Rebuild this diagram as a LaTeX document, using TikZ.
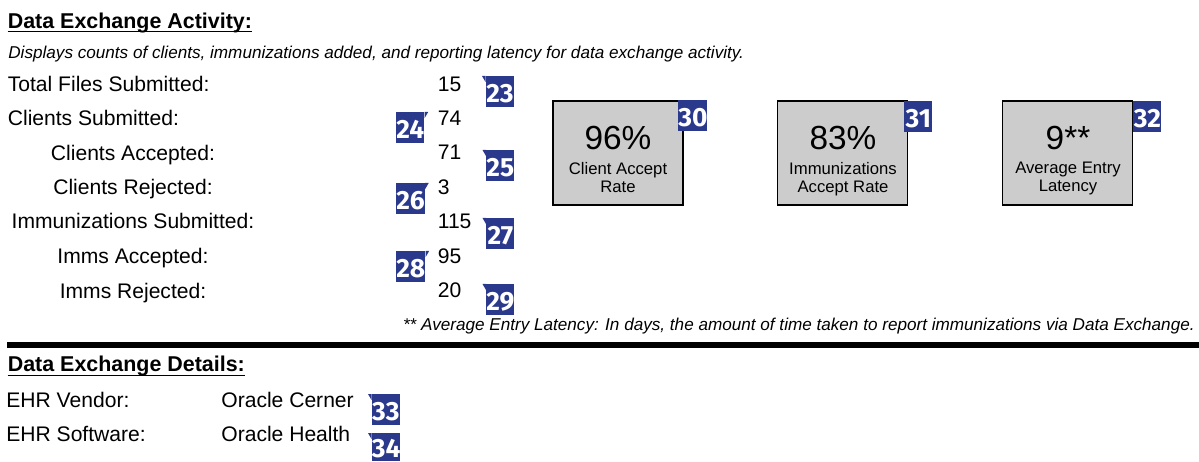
\documentclass[tikz,border=0pt]{standalone}
\usepackage{fontspec}
\setmainfont{Liberation Sans}
\newfontfamily\badgefont{Fira Sans}
\usetikzlibrary{calc}

\definecolor{badgeblue}{RGB}{43,57,140}
\definecolor{tilegray}{RGB}{204,204,204}

% little flag tip on the badges
\newcommand{\lefttab}[1]{\fill[badgeblue] (#1.north west) -- ++(-3.5,0) -- ($(#1.north west)+(0,6)$) -- cycle;}
\newcommand{\righttab}[1]{\fill[badgeblue] (#1.north east) -- ++(3.5,0) -- ($(#1.north east)+(0,6)$) -- cycle;}

\tikzset{
  head/.style={font=\bfseries\fontsize{12.2}{14}\selectfont, inner sep=0, anchor=base west},
  note/.style={font=\itshape\fontsize{9.75}{11}\selectfont, inner sep=0},
  lbl/.style={font=\fontsize{12}{14}\selectfont, inner sep=0, anchor=base west},
  clbl/.style={font=\fontsize{12}{14}\selectfont, inner sep=0, anchor=base},
  badge/.style={fill=badgeblue, text=white, font=\badgefont\bfseries\fontsize{15}{16}\selectfont,
    minimum width=0.56cm, minimum height=0.62cm, text height=0.42cm, text depth=0pt,
    inner sep=0, anchor=north west},
  tile/.style={draw, fill=tilegray, line width=0.9pt, minimum width=2.6cm, minimum height=2.08cm, inner sep=0},
  bignum/.style={font=\fontsize{19}{22}\selectfont, inner sep=0, anchor=base},
  caption/.style={font=\fontsize{9.5}{10.4}\selectfont, inner sep=0, align=center, anchor=north},
}

\begin{document}
\begin{tikzpicture}[x=0.02cm, y=-0.02cm]

% page size
\useasboundingbox (0,0) rectangle (1199,462);

% heading
\node[head] (hdact) at (7.5,28.5) {Data Exchange Activity:};
\draw[line width=0.8pt] ($(hdact.base west)+(0,3)$) -- ($(hdact.base east)+(0,3)$);
\node[note, anchor=base west] (intro) at (8,59) {Displays counts of clients, immunizations added, and reporting latency for data exchange activity.};

% counts
\node[lbl] (ltotal) at (7.5,91.5) {Total Files Submitted:};
\node[lbl] (lcsub) at (7.5,126) {Clients Submitted:};
\node[clbl] (lcacc) at (133,161) {Clients Accepted:};
\node[clbl] (lcrej) at (133,195) {Clients Rejected:};
\node[clbl] (lisub) at (133,229) {Immunizations Submitted:};
\node[clbl] (liacc) at (133,264) {Imms Accepted:};
\node[clbl] (lirej) at (133,298.5) {Imms Rejected:};

\node[lbl] (vtotal) at (437.5,91.7) {15};
\node[lbl] (vcsub) at (437.5,126) {74};
\node[lbl] (vcacc) at (437.5,160) {71};
\node[lbl] (vcrej) at (437.5,195) {3};
\node[lbl] (visub) at (437.5,228.3) {115};
\node[lbl] (viacc) at (437.5,263.3) {95};
\node[lbl] (virej) at (437.5,297.3) {20};

% badges next to the counts
\node[badge] (b23) at (485.5,76) {23};
\lefttab{b23}
\node[badge] (b24) at (396,112) {24};
\righttab{b24}
\node[badge] (b25) at (486,150) {25};
\lefttab{b25}
\node[badge] (b26) at (396,183) {26};
\righttab{b26}
\node[badge] (b27) at (486,218) {27};
\lefttab{b27}
\node[badge] (b28) at (396,251) {28};
\righttab{b28}
\node[badge] (b29) at (486,284) {29};
\lefttab{b29}

% rate tiles
\node[tile] (tclient) at (617.8,153) {};
\node[bignum] (nclient) at (618,150) {96\%};
\node[caption] (cclient) at (618,161.7) {Client Accept\\Rate};
\node[badge] (b30) at (678,100) {30};

\node[tile] (timms) at (842.5,153) {};
\node[bignum] (nimms) at (843,150) {83\%};
\node[caption] (cimms) at (843,161.7) {Immunizations\\Accept Rate};
\node[badge] (b31) at (904,101) {31};

\node[tile] (tlat) at (1067.3,153) {};
\node[bignum] (nlat) at (1068,150) {9**};
\node[caption] (clat) at (1068,161.7) {Average Entry\\Latency};
\node[badge] (b32) at (1133,101) {32};

% footnote
\node[note, anchor=base east] (fnote) at (1195,330) {** Average Entry Latency: In days, the amount of time taken to report immunizations via Data Exchange.};

% divider
\fill (7,342) rectangle (1199,348);

% details
\node[head] (hddet) at (7.5,371.5) {Data Exchange Details:};
\draw[line width=0.8pt] ($(hddet.base west)+(0,4)$) -- ($(hddet.base east)+(0,4)$);

\node[lbl] (lvendor) at (6,407.5) {EHR Vendor:};
\node[lbl] (vvendor) at (221,407.5) {Oracle Cerner};
\node[lbl] (lsoft) at (6,441) {EHR Software:};
\node[lbl] (vsoft) at (221,441) {Oracle Health};

\node[badge] (b33) at (371.5,394) {33};
\lefttab{b33}
\node[badge, minimum height=0.56cm, text height=0.39cm] (b34) at (371.5,433) {34};
\lefttab{b34}

\end{tikzpicture}
\end{document}
